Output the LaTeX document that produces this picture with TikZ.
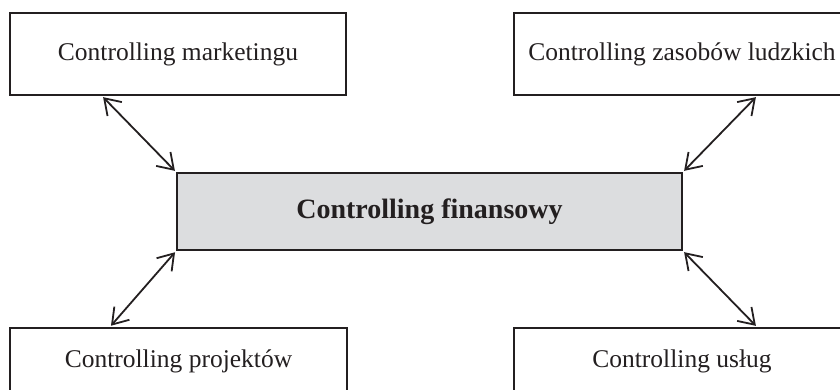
\documentclass[tikz,border=0pt]{standalone}
\usepackage{fontspec}
\setmainfont{Liberation Serif}
\usetikzlibrary{arrows.meta}
\definecolor{ink}{HTML}{231F20}
\definecolor{panel}{HTML}{DCDDDF}
\tikzset{
  unit/.style={draw=ink, line width=2.6pt, outer sep=0pt, inner sep=0pt,
    font=\fontsize{25.5}{30}\selectfont, text=ink},
  core/.style={unit, fill=panel, font=\bfseries\fontsize{28}{32}\selectfont},
  link/.style={draw=ink, line width=1.8pt,
    {Straight Barb[length=15pt,width=20pt,line width=1.8pt]}-{Straight Barb[length=15pt,width=20pt,line width=1.8pt]},
    shorten <=3pt, shorten >=3pt}
}
\begin{document}
\begin{tikzpicture}[x=1pt,y=-1pt]
  \useasboundingbox (0,0) rectangle (840,390);
  \clip (0,0) rectangle (840,390);
  % outer units
  \node[unit, minimum width=336pt, minimum height=82pt] (tl) at (178,54) {Controlling marketingu};
  \node[unit, minimum width=336pt, minimum height=82pt] (tr) at (682,54) {Controlling zasobów ludzkich};
  \node[unit, minimum width=337pt, minimum height=66pt] (bl) at (178.5,361) {Controlling projektów};
  \node[unit, minimum width=336pt, minimum height=66pt] (br) at (682,361) {Controlling usług};
  % central unit
  \node[core, minimum width=505pt, minimum height=77pt] (fin) at (429.5,211.5) {Controlling finansowy};
  % two-way links
  \draw[link] ([xshift=91pt]tl.south west) -- (fin.north west);
  \draw[link] ([xshift=244pt]tr.south west) -- (fin.north east);
  \draw[link] ([xshift=99pt]bl.north west) -- (fin.south west);
  \draw[link] ([xshift=244pt]br.north west) -- (fin.south east);
\end{tikzpicture}
\end{document}
